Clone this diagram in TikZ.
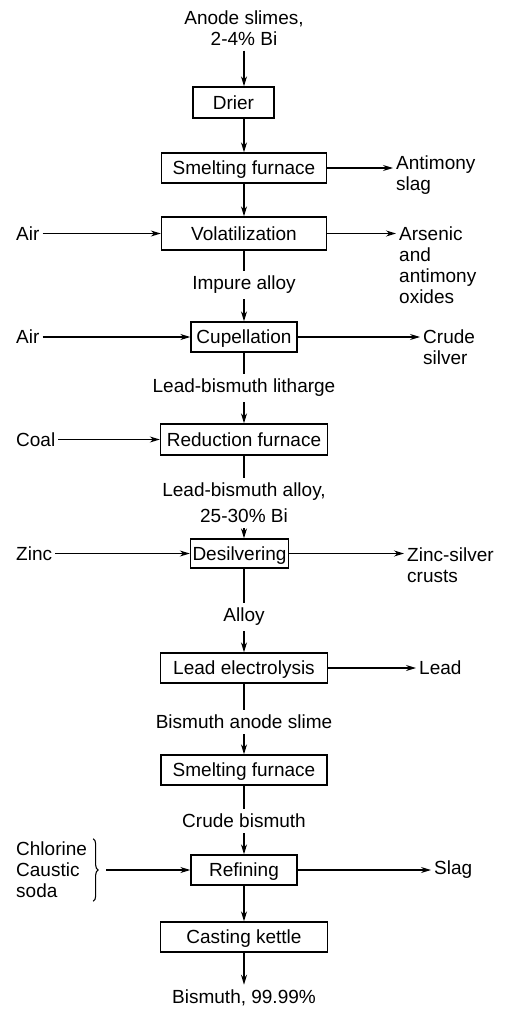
\documentclass[tikz,border=0pt]{standalone}
\usepackage{fontspec}
\setmainfont{Liberation Sans}
\usetikzlibrary{arrows.meta,decorations.pathreplacing}

\begin{document}
\begin{tikzpicture}[x=1pt,y=-1pt,font=\fontsize{19}{21}\selectfont,
  unit/.style={draw,line width=1.4pt,minimum height=30pt,inner sep=0pt,text height=13.5pt,text depth=0pt,align=center},
  lbl/.style={inner sep=5pt,align=center},
  side/.style={inner sep=3pt,align=left},
  arr/.style={-{Stealth[length=10pt,width=6pt]},line width=1.1pt},
  ln/.style={line width=1.1pt}]
\useasboundingbox (0,0) rectangle (504,1011);
% main line
\node[lbl] (feed) at (244,28) {Anode slimes,\\2-4\% Bi};
\node[unit,minimum width=81pt,minimum height=31pt] (drier) at (233.5,102.5) {Drier};
\node[unit,minimum width=165pt] (smelt) at (244,168) {Smelting furnace};
\node[unit,minimum width=165pt,minimum height=33pt] (volat) at (244,233.5) {Volatilization};
\node[lbl] (impure) at (244,285) {Impure alloy};
\node[unit,minimum width=106pt] (cupel) at (244,337) {Cupellation};
\node[lbl] (lith) at (244,388) {Lead-bismuth litharge};
\node[unit,minimum width=167pt,minimum height=31pt] (reduc) at (244,439.5) {Reduction furnace};
\node[lbl] (pbbi) at (244,503) {Lead-bismuth alloy,\\[5pt]25-30\% Bi};
\node[unit,minimum width=98pt,minimum height=29pt] (desil) at (239.5,553.5) {Desilvering};
\node[lbl] (alloy) at (244,617) {Alloy};
\node[unit,minimum width=167pt] (elec) at (244,668) {Lead electrolysis};
\node[lbl] (slime) at (244,722) {Bismuth anode slime};
\node[unit,minimum width=166pt] (smeltb) at (244,770) {Smelting furnace};
\node[lbl] (crude) at (244,821) {Crude bismuth};
\node[unit,minimum width=106pt] (refin) at (244,870) {Refining};
\node[unit,minimum width=167pt] (cast) at (244,937) {Casting kettle};
\node[lbl] (prod) at (244,998) {Bismuth, 99.99\%};
% inputs
\node[side,anchor=west] (air1) at (13,233.5) {Air};
\node[side,anchor=west] (air2) at (13,337) {Air};
\node[side,anchor=west] (coal) at (13,439.5) {Coal};
\node[side,anchor=west] (zinc) at (13,553.5) {Zinc};
\node[side,anchor=west] (chem) at (13,870) {Chlorine\\Caustic\\soda};
\coordinate (tip) at ([xshift=16pt]chem.east);
% outputs
\node[side,anchor=north west] (sbslag) at (393,153) {Antimony\\slag};
\node[side,anchor=north west] (oxide) at (396,223.5) {Arsenic\\and\\antimony\\oxides};
\node[side,anchor=north west] (silv) at (420,327) {Crude\\silver};
\node[side,anchor=north west] (crust) at (404,545) {Zinc-silver\\crusts};
\node[side,anchor=west] (lead) at (416,668) {Lead};
\node[side,anchor=west] (slag) at (431,870) {Slag};
% flow
\draw[arr] (feed.south) -- (feed.south |- drier.north);
\draw[arr] (drier.south -| smelt.north) -- (smelt.north);
\draw[arr] (smelt) -- (volat);
\draw[ln] (volat) -- (impure);
\draw[arr] (impure) -- (cupel);
\draw[ln] (cupel) -- (lith);
\draw[arr] (lith) -- (reduc);
\draw[ln] (reduc) -- (pbbi);
\draw[arr] (pbbi.south) -- (pbbi.south |- desil.north);
\draw[ln] (pbbi.south |- desil.south) -- (alloy.north);
\draw[arr] (alloy) -- (elec);
\draw[ln] (elec) -- (slime);
\draw[arr] (slime) -- (smeltb);
\draw[ln] (smeltb) -- (crude);
\draw[arr] (crude) -- (refin);
\draw[arr] (refin) -- (cast);
\draw[arr] (cast) -- (prod);
% side streams
\draw[arr] (air1) -- (volat);
\draw[arr] (air2) -- (cupel);
\draw[arr] (coal) -- (reduc);
\draw[arr] (zinc) -- (desil);
\draw[ln,decorate,decoration={brace,amplitude=5pt}] ([xshift=3pt]chem.north east) -- ([xshift=3pt]chem.south east);
\draw[arr] (tip) -- (refin);
\draw[arr] (smelt.east) -- (smelt.east -| sbslag.west);
\draw[arr] (volat.east) -- (volat.east -| oxide.west);
\draw[arr] (cupel.east) -- (cupel.east -| silv.west);
\draw[arr] (desil.east) -- (desil.east -| crust.west);
\draw[arr] (elec) -- (lead);
\draw[arr] (refin) -- (slag);
\end{tikzpicture}
\end{document}
